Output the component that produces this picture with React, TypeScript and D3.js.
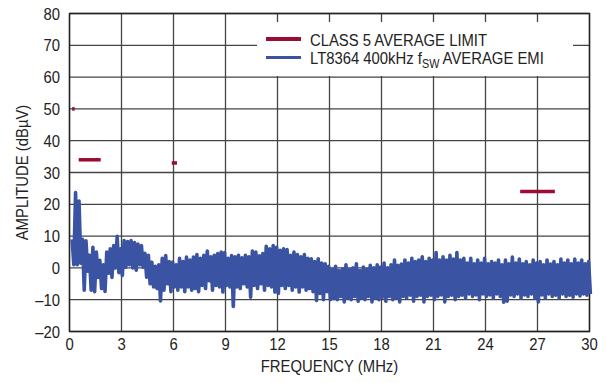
import React from "react";
import * as d3 from "d3";

// ---- data ----
const X_TICKS = [0, 3, 6, 9, 12, 15, 18, 21, 24, 27, 30];
const Y_TICKS = [-20, -10, 0, 10, 20, 30, 40, 50, 60, 70, 80];

// CISPR 25 class 5 average limit segments (MHz, dBµV)
const LIMIT_START = [0.15, 0.53, 5.9, 26];
const LIMIT_END = [0.3, 1.8, 6.2, 28];
const LIMIT_LEVEL = [50, 34, 33, 24];

// Measured average EMI: peak / trough per 0.2 MHz bin starting at 0.15 MHz
const EMI_START = 0.15;
const EMI_STEP = 0.2;
const EMI_HIGH = [
  9, 23.7, 21, 9, 8.5, 4, 6.5, 5, 2.4, 1,
  5, 6, 7, 9.9, 6, 8.6, 8.3, 8.6, 8, 7.5,
  7, 4.6, 4, 1.8, 0.5, 1, 3, 3.9, 2, 1.8,
  1, 3, 2, 3.4, 2.5, 3.4, 4.2, 3, 4, 5.3,
  3.5, 4, 4.5, 5, 4.8, 3, 3.9, 3.5, 4, 3.2,
  4, 3.5, 5.3, 5, 3.8, 4.5, 6.8, 6, 7, 6.5,
  5.5, 6, 5.8, 4, 5, 4.2, 3.5, 4.2, 3, 2.9,
  2, 2.9, 1.5, 1.3, 0.5, -0.5, 0.5, -0.8, -0.3, 1,
  -0.5, 0, 1.3, -0.8, 0.3, -0.5, 0.8, 0, 1, 0.3,
  1.5, 0, 1, 2.5, 0.8, 1.2, 2.5, 1.5, 3, 2,
  2.5, 3.5, 2, 3, 2.5, 4.8, 2.5, 3.5, 2.5, 4,
  2.8, 4.8, 2.5, 3, 1.5, 3, 1.3, 2.5, 1.5, 3,
  1.3, 2, 1.5, 2.5, 1, 2.5, 1.3, 3.4, 1.5, 2.8,
  1.3, 2, 1, 2.5, 1.5, 2, 1, 2.5, 1.2, 2,
  1, 2.8, 1.5, 2.5, 1.3, 2.8, 1.5, 2.5, 1.3, 2,
];
const EMI_LOW = [
  1, 1, 1.5, -7, -1, -7, -7.5, -3, -6.5, -7.4,
  -1.7, -3, 0, -1.5, -2.4, 0.2, 1, 0, -0.7, 1,
  0.2, -2.9, -5, -6, -6.5, -10.4, -7, -5, -7.5, -6,
  -7, -6, -7.5, -6, -7, -6.5, -7.5, -5.5, -6.5, -4,
  -7, -5.5, -6, -7.6, -5.5, -6, -12.1, -6, -6.5, -5,
  -6, -9.2, -5.5, -6.5, -5, -7, -5.5, -6, -7.6, -8,
  -5.5, -6.5, -5.5, -7, -6, -7.6, -6, -7, -6.5, -7.5,
  -10.2, -8, -10, -7.5, -10, -9.7, -10, -9, -10.7, -9.5,
  -10, -9, -10.5, -9.5, -10, -9, -10.7, -9.5, -10, -9.2,
  -10.5, -9, -10, -9.5, -10.7, -9, -9.5, -8.6, -10.5, -9,
  -8.6, -10.7, -9, -8.6, -10, -9, -8.5, -10.7, -9, -8.6,
  -10, -9, -8.6, -9.5, -8.2, -9, -8.5, -10, -8.2, -9,
  -8.5, -9.5, -8.2, -9, -10.8, -10.5, -8.5, -9, -8.2, -9.5,
  -8.5, -9, -8.2, -9.5, -10.7, -8.5, -9.5, -8.2, -9, -8.6,
  -9.5, -8.2, -9, -8.6, -9.2, -8.2, -8.8, -8.2, -8.6, -8.2,
];

const W = 609;
const H = 383;
const LEFT = 69.5;
const RIGHT = 589.5;
const TOP = 13.5;
const BOTTOM = 331.5;

const FONT = "'Liberation Sans', Arial, sans-serif";
const BLUE = "#3a53a3";
const RED = "#9c0b31";
const GRID = "#444";
const TXT = "#222";
const SQ = 0.9; // horizontal condensing of the narrow face

function NText({ x, y, anchor = "start", size = 16.5, rotate = 0, children }: any) {
  return (
    <text
      transform={`translate(${x},${y}) rotate(${rotate}) scale(${SQ},1)`}
      textAnchor={anchor}
      fontSize={size}
      fill={TXT}
    >
      {children}
    </text>
  );
}

export default function App() {
  const x = d3.scaleLinear().domain([0, 30]).range([LEFT, RIGHT]);
  const y = d3.scaleLinear().domain([-20, 80]).range([BOTTOM, TOP]);

  const pts: [number, number][] = [];
  EMI_HIGH.forEach((h, i) => {
    const f = EMI_START + i * EMI_STEP;
    pts.push([x(f), y(h)]);
    pts.push([x(f + EMI_STEP / 2), y(EMI_LOW[i])]);
  });
  const emiPath = d3.line()(pts) || "";

  return (
    <svg
      width={W}
      height={H}
      style={{ position: "absolute", left: 0, top: 0, background: "#fff" }}
      fontFamily={FONT}
    >
      {/* grid */}
      {Y_TICKS.map((t) => (
        <line key={"gy" + t} x1={LEFT} x2={RIGHT} y1={y(t)} y2={y(t)} stroke={GRID} strokeWidth={1.3} />
      ))}
      {X_TICKS.map((t) => (
        <line key={"gx" + t} x1={x(t)} x2={x(t)} y1={TOP} y2={BOTTOM} stroke={GRID} strokeWidth={1.3} />
      ))}

      {/* legend box */}
      <rect x={257} y={22} width={316} height={54} fill="#fff" />
      <line x1={266} x2={301} y1={39} y2={39} stroke={RED} strokeWidth={4} />
      <line x1={266} x2={301} y1={57.5} y2={57.5} stroke={BLUE} strokeWidth={3} />
      <NText x={310} y={46}>CLASS 5 AVERAGE LIMIT</NText>
      <NText x={310} y={64}>
        LT8364 400kHz f<tspan fontSize={12} dy={4}>SW</tspan>
        <tspan dy={-4}> AVERAGE EMI</tspan>
      </NText>

      {/* frame */}
      <rect x={LEFT} y={TOP} width={RIGHT - LEFT} height={BOTTOM - TOP} fill="none" stroke="#222" strokeWidth={1.4} />

      {/* EMI trace */}
      <path d={emiPath} fill="none" stroke={BLUE} strokeWidth={3.6} strokeLinejoin="round" />

      {/* limit segments */}
      {LIMIT_LEVEL.map((lv, i) => (
        <line
          key={"lim" + i}
          x1={x(LIMIT_START[i])}
          x2={x(LIMIT_END[i])}
          y1={y(lv)}
          y2={y(lv)}
          stroke={RED}
          strokeWidth={3.5}
        />
      ))}

      {/* y tick labels */}
      {Y_TICKS.map((t) => (
        <NText key={"ty" + t} x={60} y={y(t) + 6} anchor="end">
          {t < 0 ? "\u2013" + Math.abs(t) : t}
        </NText>
      ))}
      {/* x tick labels */}
      {X_TICKS.map((t) => (
        <NText key={"tx" + t} x={x(t)} y={350} anchor="middle">
          {t}
        </NText>
      ))}

      <NText x={(LEFT + RIGHT) / 2} y={372} anchor="middle">FREQUENCY (MHz)</NText>
      <NText x={28} y={(TOP + BOTTOM) / 2} anchor="middle" rotate={-90}>AMPLITUDE (dBµV)</NText>
    </svg>
  );
}
